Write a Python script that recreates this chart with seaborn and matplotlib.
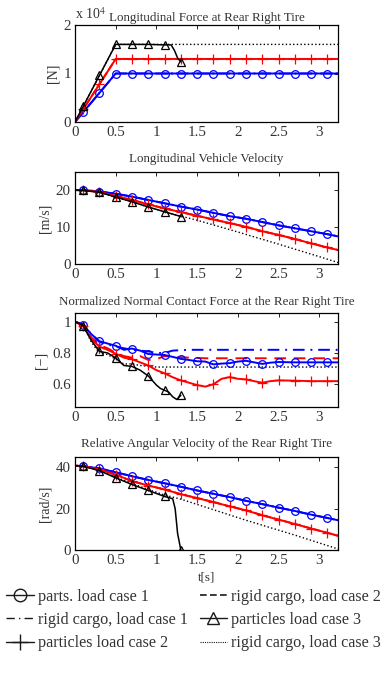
import numpy as np
import matplotlib
matplotlib.use("Agg")
import matplotlib.pyplot as plt
from matplotlib.lines import Line2D
from matplotlib.ticker import FuncFormatter, FixedLocator
import seaborn as sns

# ---------------- data ----------------
t_mk = [0, 0.1, 0.3, 0.5, 0.7, 0.9, 1.1, 1.3, 1.5, 1.7, 1.9, 2.1, 2.3, 2.5, 2.7, 2.9, 3.1, 3.23]

# Longitudinal force [N]
f_parts1 = [0, 2000, 6000, 10000, 10000, 10000, 10000, 10000, 10000, 10000, 10000, 10000, 10000, 10000, 10000, 10000, 10000, 10000]
f_parts2 = [0, 2600, 7800, 13000, 13000, 13000, 13000, 13000, 13000, 13000, 13000, 13000, 13000, 13000, 13000, 13000, 13000, 13000]
t_f3 = [0, 0.1, 0.3, 0.5, 0.7, 0.9, 1.1, 1.18, 1.22, 1.26, 1.3]
f_parts3 = [0, 3200, 9600, 16000, 16000, 16000, 15900, 15900, 14800, 13200, 12400]
t_fr3 = [0, 0.5, 3.23]
f_rigid3 = [0, 16000, 16000]

# Longitudinal vehicle velocity [m/s]
v_parts1 = [20.1, 20.1, 19.7, 19.1, 18.3, 17.4, 16.5, 15.6, 14.8, 13.9, 13.0, 12.3, 11.4, 10.5, 9.7, 8.9, 8.1, 7.5]
v_parts2 = [20.1, 20.0, 19.6, 18.5, 17.4, 16.2, 15.1, 14.1, 13.1, 12.1, 11.1, 10.1, 8.9, 7.9, 6.8, 5.6, 4.5, 3.8]
t_v3 = [0, 0.1, 0.3, 0.5, 0.7, 0.9, 1.1, 1.3]
v_parts3 = [20.1, 20.0, 19.5, 18.2, 16.9, 15.5, 14.2, 12.9]
t_vr3 = [0, 0.1, 0.3, 0.5, 0.7, 0.9, 1.1, 1.3, 1.5, 2.0, 2.5, 3.0, 3.23]
v_rigid3 = [20.1, 20.0, 19.5, 18.2, 16.9, 15.5, 14.2, 13.0, 11.9, 8.7, 5.4, 2.0, 0.4]

# Normalized normal contact force [-]
t_n = [0, 0.1, 0.2, 0.3, 0.4, 0.5, 0.6, 0.7, 0.8, 0.9, 1.0, 1.1, 1.2, 1.3, 1.4, 1.5, 1.6, 1.7,
       1.8, 1.9, 2.0, 2.1, 2.2, 2.3, 2.4, 2.5, 2.7, 2.9, 3.1, 3.23]
n_parts1 = [1.0, 0.98, 0.92, 0.875, 0.86, 0.846, 0.82, 0.828, 0.815, 0.793, 0.79, 0.787, 0.775, 0.762,
            0.755, 0.747, 0.745, 0.727, 0.732, 0.735, 0.745, 0.75, 0.74, 0.73, 0.738, 0.742, 0.74, 0.74, 0.74, 0.74]
n_parts2 = [1.0, 0.97, 0.89, 0.84, 0.82, 0.795, 0.77, 0.76, 0.74, 0.72, 0.69, 0.67, 0.645, 0.625,
            0.61, 0.595, 0.585, 0.60, 0.635, 0.646, 0.635, 0.631, 0.62, 0.61, 0.62, 0.625, 0.623, 0.62, 0.62, 0.62]
t_n3 = [0, 0.1, 0.2, 0.3, 0.4, 0.5, 0.6, 0.7, 0.8, 0.9, 1.0, 1.05, 1.1, 1.15, 1.2, 1.25, 1.3]
n_parts3 = [1.0, 0.975, 0.88, 0.81, 0.80, 0.768, 0.72, 0.714, 0.69, 0.653, 0.595, 0.573, 0.562, 0.55, 0.52, 0.503, 0.53]
t_nr1 = [0, 0.1, 0.2, 0.3, 0.5, 0.7, 0.9, 1.0, 1.1, 1.2, 1.4, 1.6, 2.0, 3.23]
n_rigid1 = [1.0, 0.98, 0.92, 0.87, 0.84, 0.82, 0.81, 0.80, 0.80, 0.815, 0.82, 0.82, 0.82, 0.82]
t_nr2 = [0, 0.1, 0.2, 0.3, 0.4, 0.5, 0.6, 0.7, 0.8, 0.9, 1.0, 1.1, 1.2, 1.4, 1.6, 2.0, 3.23]
n_rigid2 = [1.0, 0.975, 0.9, 0.85, 0.83, 0.80, 0.78, 0.77, 0.78, 0.755, 0.76, 0.78, 0.775, 0.77, 0.766, 0.766, 0.766]
t_nr3 = [0, 0.1, 0.2, 0.3, 0.4, 0.5, 0.6, 0.7, 0.8, 1.0, 1.2, 3.23]
n_rigid3 = [1.0, 0.975, 0.87, 0.80, 0.79, 0.76, 0.73, 0.73, 0.72, 0.71, 0.71, 0.71]

# Relative angular velocity [rad/s]
w_parts1 = [40.8, 40.5, 39.5, 37.6, 35.7, 33.9, 32.3, 30.6, 28.8, 27.2, 25.6, 23.8, 22.2, 20.5, 18.9, 17.1, 15.5, 14.4]
w_parts2 = [40.8, 40.5, 39.0, 36.5, 33.3, 31.2, 29.3, 27.0, 25.1, 23.2, 21.1, 19.2, 16.8, 14.7, 12.6, 10.4, 8.3, 6.9]
t_w3 = [0, 0.1, 0.3, 0.5, 0.7, 0.9, 1.1, 1.2, 1.23, 1.26, 1.3]
w_parts3 = [40.8, 40.5, 38.4, 34.9, 31.7, 28.8, 25.9, 24.8, 20.0, 8.0, 0.0]
t_wr3 = [0, 0.1, 0.3, 0.5, 0.7, 0.9, 1.1, 1.3, 2.1, 2.7, 3.23]
w_rigid3 = [40.8, 40.5, 38.6, 35.3, 32.2, 29.3, 26.6, 24.6, 14.4, 7.2, 0.5]

titles = ["Longitudinal Force at Rear Right Tire",
          "Longitudinal Vehicle Velocity",
          "Normalized Normal Contact Force at the Rear Right Tire",
          "Relative Angular Velocity of the Rear Right Tire"]
ylabels = ["[N]", "[m/s]", "[\u2212]", "[rad/s]"]
legend_labels = ["parts. load case 1", "rigid cargo, load case 1", "particles load case 2",
                 "rigid cargo, load case 2", "particles load case 3", "rigid cargo, load case 3"]
marker_times = [0.1, 0.3, 0.5, 0.7, 0.9, 1.1, 1.3, 1.5, 1.7, 1.9, 2.1, 2.3, 2.5, 2.7, 2.9, 3.1]

# ---------------- style ----------------
sns.set_theme(style="white")
plt.rcParams["font.family"] = ["Liberation Serif", "DejaVu Serif"]
plt.rcParams["mathtext.fontset"] = "stix"
TXT = "#333333"

BLUE, RED, BLACK = "#0000ff", "#ff0000", "#000000"

fig = plt.figure(figsize=(3.9, 6.78), dpi=100)
W, H = 390.0, 678.0
boxes = [(25, 122), (172, 264), (313, 407), (457, 550)]
axes = []
for top, bot in boxes:
    ax = fig.add_axes([75 / W, 1 - bot / H, 263 / W, (bot - top) / H])
    axes.append(ax)


def draw(ax, t, y, color, ls="-", marker=None, lw=1.4, ms=5.5, z=2):
    t = np.asarray(t, float)
    idx = [i for i, tv in enumerate(t) if any(abs(tv - m) < 1e-6 for m in marker_times)] if marker else None
    kw = dict(color=color, linestyle=ls, lw=lw, zorder=z)
    if marker:
        kw.update(marker=marker, markevery=idx, markersize=ms, markerfacecolor="none",
                  markeredgecolor=color, markeredgewidth=0.9)
    sns.lineplot(x=t, y=np.asarray(y, float), ax=ax, estimator=None, sort=False, **kw)


# plot 1
ax = axes[0]
draw(ax, t_mk, f_parts1, BLUE, "-.", z=1)
draw(ax, t_mk, f_parts2, RED, "--", z=1)
draw(ax, t_fr3, f_rigid3, BLACK, ":", lw=1.0, z=1)
draw(ax, t_mk, f_parts1, BLUE, "-", "o")
draw(ax, t_mk, f_parts2, RED, "-", "+", ms=6.5)
draw(ax, t_f3, f_parts3, BLACK, "-", "^", lw=1.1)

# plot 2
ax = axes[1]
draw(ax, t_mk, v_parts1, BLUE, "-.", z=1)
draw(ax, t_mk, v_parts2, RED, "--", z=1)
draw(ax, t_vr3, v_rigid3, BLACK, ":", lw=1.0, z=1)
draw(ax, t_mk, v_parts1, BLUE, "-", "o")
draw(ax, t_mk, v_parts2, RED, "-", "+", ms=6.5)
draw(ax, t_v3, v_parts3, BLACK, "-", "^", lw=1.1)

# plot 3
ax = axes[2]
draw(ax, t_nr1, n_rigid1, BLUE, (0, (6, 3, 1, 3)), z=1)
draw(ax, t_nr2, n_rigid2, RED, (0, (6, 4)), z=1)
draw(ax, t_nr3, n_rigid3, BLACK, ":", lw=1.0, z=1)
draw(ax, t_n, n_parts1, BLUE, "-", "o")
draw(ax, t_n, n_parts2, RED, "-", "+", ms=6.5)
draw(ax, t_n3, n_parts3, BLACK, "-", "^", lw=1.1)

# plot 4
ax = axes[3]
draw(ax, t_mk, w_parts1, BLUE, "-.", z=1)
draw(ax, t_mk, w_parts2, RED, "--", z=1)
draw(ax, t_wr3, w_rigid3, BLACK, ":", lw=1.0, z=1)
draw(ax, t_mk, w_parts1, BLUE, "-", "o")
draw(ax, t_mk, w_parts2, RED, "-", "+", ms=6.5)
draw(ax, t_w3, w_parts3, BLACK, "-", "^", lw=1.1)

ylims = [(0, 20000), (0, 25), (0.455, 1.055), (0, 45)]
yticks = [[0, 10000, 20000], [0, 10, 20], [0.6, 0.8, 1.0], [0, 20, 40]]
pads = [3, 7, 6, 7]
for i, ax in enumerate(axes):
    ax.set_xlim(0, 3.23)
    ax.set_ylim(*ylims[i])
    ax.xaxis.set_major_locator(FixedLocator([0, 0.5, 1, 1.5, 2, 2.5, 3]))
    ax.yaxis.set_major_locator(FixedLocator(yticks[i]))
    ax.xaxis.set_major_formatter(FuncFormatter(lambda v, p: "%g" % v))
    if i == 0:
        ax.yaxis.set_major_formatter(FuncFormatter(lambda v, p: "%g" % (v / 1e4)))
    else:
        ax.yaxis.set_major_formatter(FuncFormatter(lambda v, p: "%g" % v))
    ax.tick_params(direction="in", top=True, right=True, length=3, width=0.6,
                   labelsize=10.8, colors="#000000", labelcolor=TXT, pad=3)
    for s in ax.spines.values():
        s.set_color("#000000")
        s.set_linewidth(0.9)
        s.set_visible(True)
    ax.set_title(titles[i], fontsize=9.4, color=TXT, pad=pads[i])
    ax.set_ylabel(ylabels[i], fontsize=10, color=TXT, labelpad=3)
    ax.set_xlabel("")
    if ax.get_legend():
        ax.get_legend().remove()

axes[0].text(0.0, 1.03, r"x 10$^4$", transform=axes[0].transAxes, fontsize=10,
             color=TXT, ha="left", va="bottom")
axes[3].set_xlabel("t[s]", fontsize=9.4, color=TXT, labelpad=3)

handles = [
    Line2D([], [], color="k", lw=1.0, marker="o", ms=9, mfc="none", mec="k", mew=1.0),
    Line2D([], [], color="k", lw=1.0, linestyle=(0, (6, 3, 1, 3))),
    Line2D([], [], color="k", lw=1.0, marker="+", ms=11, mec="k", mew=1.0),
    Line2D([], [], color="k", lw=1.2, linestyle=(0, (4, 2))),
    Line2D([], [], color="k", lw=1.0, marker="^", ms=9, mfc="none", mec="k", mew=1.0),
    Line2D([], [], color="k", lw=0.8, linestyle=(0, (1, 1))),
]
fig.legend(handles, legend_labels, loc="upper left", bbox_to_anchor=(0.016, 1 - 589 / H),
           ncol=2, frameon=False, fontsize=11.6, labelcolor=TXT, handlelength=1.7,
           handletextpad=0.25, columnspacing=0.75, labelspacing=0.44, borderaxespad=0,
           borderpad=0)

fig.savefig("out.png", dpi=100)
